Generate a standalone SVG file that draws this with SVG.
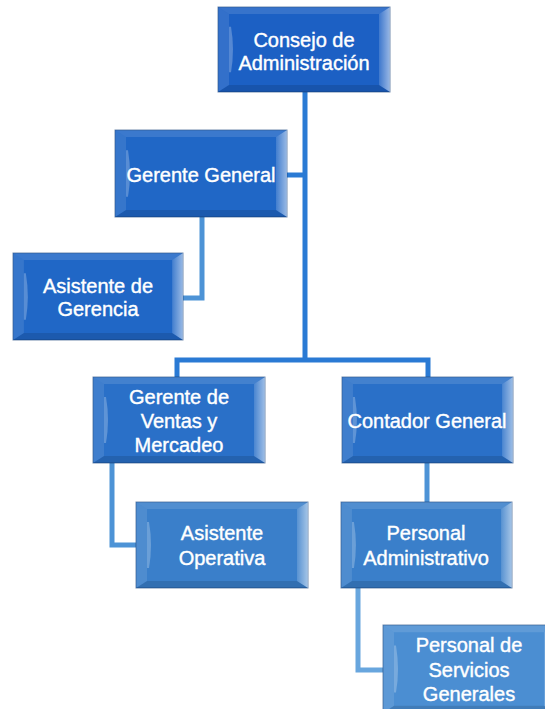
<svg xmlns="http://www.w3.org/2000/svg" width="545" height="709" viewBox="0 0 545 709">
<defs>
<linearGradient id="rhl" x1="0" y1="0" x2="1" y2="0">
<stop offset="0" stop-color="#ffffff" stop-opacity="0.15"/>
<stop offset="1" stop-color="#ffffff" stop-opacity="0.55"/>
</linearGradient>
<symbol id="bevel" viewBox="0 0 172 86" width="172" height="86" preserveAspectRatio="none">
<polygon points="0,0 172,0 161,7 11,7" fill="#ffffff" fill-opacity="0.12"/>
<polygon points="0,86 172,86 161,79 11,79" fill="#000000" fill-opacity="0.12"/>
<polygon points="0,0 11,7 11,79 0,86" fill="#ffffff" fill-opacity="0.1"/>
<polygon points="172,0 161,7 161,79 172,86" fill="url(#rhl)"/>
<path d="M13,20 Q17,43 13,66 L11,66 L11,20 Z" fill="#ffffff" fill-opacity="0.25"/>
</symbol>
</defs>
<style>
.box{stroke:#163f7a;stroke-width:1;stroke-opacity:0.6}
.l1{fill:#1c60c4}
.l2{fill:#2067c6}
.l3{fill:#2a70c8}
.l4{fill:#3a7fca}
.l5{fill:#4b8ed2}
.lbl{font-family:"Liberation Sans",Arial,sans-serif;font-size:20px;fill:#ffffff;stroke:#ffffff;stroke-width:0.4;text-anchor:middle}
.c1{stroke:#2a7ad4;stroke-width:5;fill:none}
.c2{stroke:#4d93d6;stroke-width:5;fill:none}
.c3{stroke:#68a6de;stroke-width:5;fill:none}
</style>
<g id="connectors">
<path class="c1" d="M305,92 V360"/>
<path class="c1" d="M287,175 H305"/>
<path class="c2" d="M202,217 V298 H183"/>
<path class="c1" d="M177,377 V360 H428 V377"/>
<path class="c2" d="M112,463 V545 H136"/>
<path class="c2" d="M427,463 V502"/>
<path class="c3" d="M358,588 V670 H383"/>
</g>
<g id="consejo">
<rect class="box l1" x="218" y="7" width="172" height="85"/>
<use href="#bevel" x="218" y="7" width="172" height="85"/>
<text class="lbl" x="304" y="47">Consejo de</text>
<text class="lbl" x="304" y="70">Administración</text>
</g>
<g id="gerente-general">
<rect class="box l2" x="115" y="130" width="172" height="87"/>
<use href="#bevel" x="115" y="130" width="172" height="87"/>
<text class="lbl" x="201" y="182">Gerente General</text>
</g>
<g id="asistente-gerencia">
<rect class="box l2" x="13" y="253" width="170" height="87"/>
<use href="#bevel" x="13" y="253" width="170" height="87"/>
<text class="lbl" x="98" y="293">Asistente de</text>
<text class="lbl" x="98" y="316">Gerencia</text>
</g>
<g id="gerente-ventas">
<rect class="box l3" x="93" y="377" width="172" height="86"/>
<use href="#bevel" x="93" y="377" width="172" height="86"/>
<text class="lbl" x="179" y="404">Gerente de</text>
<text class="lbl" x="179" y="428">Ventas y</text>
<text class="lbl" x="179" y="452">Mercadeo</text>
</g>
<g id="contador">
<rect class="box l3" x="342" y="377" width="171" height="86"/>
<use href="#bevel" x="342" y="377" width="171" height="86"/>
<text class="lbl" x="427" y="428">Contador General</text>
</g>
<g id="asistente-operativa">
<rect class="box l4" x="136" y="502" width="172" height="86"/>
<use href="#bevel" x="136" y="502" width="172" height="86"/>
<text class="lbl" x="222" y="540">Asistente</text>
<text class="lbl" x="222" y="565">Operativa</text>
</g>
<g id="personal-administrativo">
<rect class="box l4" x="341" y="502" width="171" height="86"/>
<use href="#bevel" x="341" y="502" width="171" height="86"/>
<text class="lbl" x="426" y="540">Personal</text>
<text class="lbl" x="426" y="565">Administrativo</text>
</g>
<g id="personal-servicios">
<rect class="box l5" x="383" y="625" width="172" height="88"/>
<use href="#bevel" x="383" y="625" width="172" height="88"/>
<text class="lbl" x="469" y="652">Personal de</text>
<text class="lbl" x="469" y="677">Servicios</text>
<text class="lbl" x="469" y="701">Generales</text>
</g>
</svg>
